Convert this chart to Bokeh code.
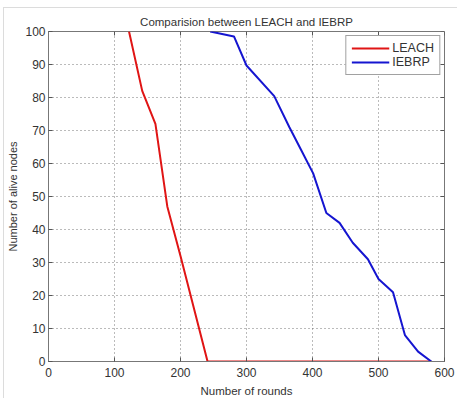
from bokeh.plotting import figure
from bokeh.models import Range1d, Legend, LegendItem, FixedTicker
from bokeh.embed import file_html
from bokeh.resources import INLINE

# Data
leach_x = [122, 142, 162, 180, 200, 241, 580]
leach_y = [100, 82, 72, 47, 32, 0, 0]
iebrp_x = [245, 281, 300, 342, 365, 383, 401, 421, 441, 461, 484, 500, 522, 540, 560, 580]
iebrp_y = [100, 98.5, 89.7, 80.4, 71, 64, 57, 45, 42, 36, 31, 25, 21, 8, 3, 0]
x_ticks = [0, 100, 200, 300, 400, 500, 600]
y_ticks = [0, 10, 20, 30, 40, 50, 60, 70, 80, 90, 100]

FONT = "Liberation Sans"
X0, X1, Y0, Y1 = 0, 600, 0, 100

p = figure(width=454, height=391, output_backend="svg", toolbar_location=None,
           x_range=Range1d(X0, X1), y_range=Range1d(Y0, Y1),
           min_border_left=40, min_border_right=14, min_border_top=23, min_border_bottom=37,
           title="Comparision between LEACH and IEBRP")
p.styles = {"margin-left": "3px", "margin-top": "7px",
            "border-top": "1px solid #dcdcdc", "border-left": "1px solid #dcdcdc"}

p.title.align = "center"
p.title.text_font = FONT
p.title.text_font_size = "11.5px"
p.title.text_font_style = "normal"
p.title.text_color = "#333333"
p.title.offset = 0
p.title.standoff = 8

p.outline_line_color = "#777777"
p.outline_line_width = 1
p.background_fill_color = "white"
p.border_fill_color = "white"

for ax, ticks in ((p.xaxis[0], x_ticks), (p.yaxis[0], y_ticks)):
    ax.ticker = FixedTicker(ticks=ticks)
    ax.major_tick_in = 4
    ax.major_tick_out = 0
    ax.minor_tick_line_color = None
    ax.axis_line_color = "#777777"
    ax.major_tick_line_color = "#555555"
    ax.major_label_text_font = FONT
    ax.major_label_text_font_size = "12px"
    ax.major_label_text_color = "#333333"
    ax.axis_label_text_font = FONT
    ax.axis_label_text_font_size = "11.5px"
    ax.axis_label_text_font_style = "normal"
    ax.axis_label_text_color = "#333333"

p.xaxis.axis_label = "Number of rounds"
p.yaxis.axis_label = "Number of alive nodes"
p.xaxis.major_label_standoff = 6
p.yaxis.major_label_standoff = 3
p.xaxis.axis_label_standoff = 5
p.yaxis.axis_label_standoff = 3
p.yaxis.axis_label_text_font_size = "11px"

p.xgrid.ticker = FixedTicker(ticks=x_ticks)
p.ygrid.ticker = FixedTicker(ticks=y_ticks)
p.grid.grid_line_color = "#555555"
p.grid.grid_line_dash = "1 3"
p.grid.grid_line_width = 1
p.grid.grid_line_alpha = 0.8

# inward ticks on the top and right edges of the box (MATLAB style)
tick_len_y = (Y1 - Y0) * 4 / 331.0
tick_len_x = (X1 - X0) * 4 / 396.0
p.segment(x0=x_ticks, x1=x_ticks, y0=[Y1] * len(x_ticks), y1=[Y1 - tick_len_y] * len(x_ticks),
          line_color="#555555", line_width=1)
p.segment(x0=[X1] * len(y_ticks), x1=[X1 - tick_len_x] * len(y_ticks), y0=y_ticks, y1=y_ticks,
          line_color="#555555", line_width=1)

r1 = p.line(leach_x, leach_y, line_color="#e01515", line_width=2)
r2 = p.line(iebrp_x, iebrp_y, line_color="#1515d0", line_width=2)

legend = Legend(items=[LegendItem(label="LEACH", renderers=[r1]),
                       LegendItem(label="IEBRP", renderers=[r2])],
                location="top_right")
legend.border_line_color = "#444444"
legend.border_line_width = 1
legend.background_fill_color = "white"
legend.background_fill_alpha = 1
legend.label_text_font = FONT
legend.label_text_font_size = "12.5px"
legend.label_text_color = "#333333"
legend.glyph_width = 38
legend.glyph_height = 14
legend.label_standoff = 3
legend.spacing = 0
legend.padding = 5
legend.margin = 4
legend.label_height = 14
p.add_layout(legend, "center")

open("out.html", "w").write(file_html(p, INLINE))
